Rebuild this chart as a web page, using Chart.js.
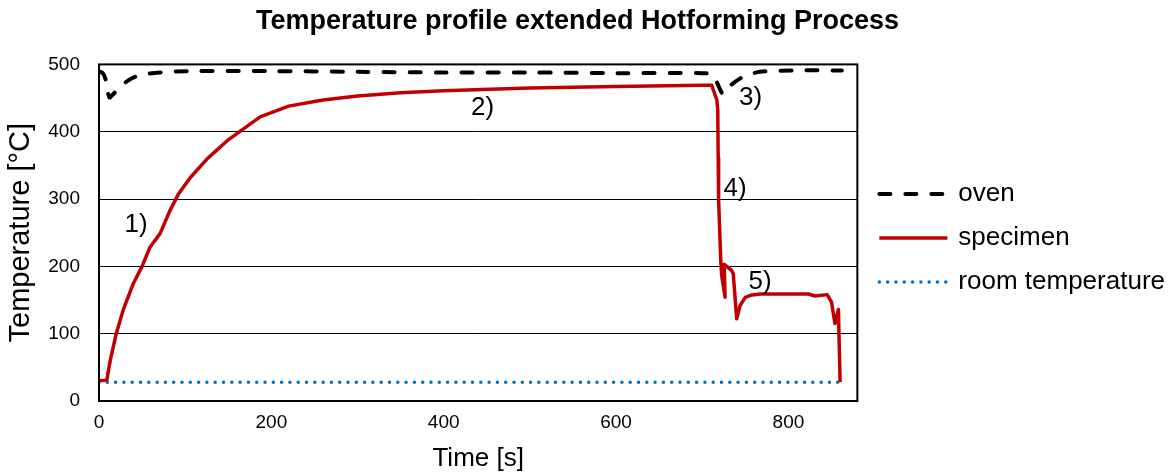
<!DOCTYPE html>
<html>
<head>
<meta charset="utf-8">
<title>Temperature profile extended Hotforming Process</title>
<script src="https://cdn.jsdelivr.net/npm/chart.js@4/dist/chart.umd.min.js"></script>
<style>
    html, body { margin: 0; padding: 0; background: #fff; }
    #wrap { width: 1176px; height: 474px; }
</style>
</head>
<body>
<div id="wrap"><canvas id="profile" width="1176" height="474"></canvas></div>
<script>
// Values (time in s, temperature in °C)
const ovenTime = [0, 5, 8, 12, 16, 24, 36, 48, 71, 102, 200, 300, 400, 500, 600, 701, 711, 716, 721, 724, 728, 734, 745, 752, 767, 806, 862];
const ovenTemp = [490, 486, 476, 451, 455, 466, 478, 484, 488, 490, 490, 489, 488, 488, 487, 487, 485, 476, 462, 456, 460, 470, 480, 484, 489, 491, 491];

const specimenTime = [0, 9, 13, 20, 28, 40, 50, 59, 71, 82, 92, 106, 125, 137, 150, 164, 187, 220, 260, 300, 350, 400, 500, 600, 700, 711,
    717, 718, 718.5, 719, 721.5, 722.5, 726.5, 725.5, 734, 736, 740, 744, 750, 756, 767, 775, 823, 831, 845, 850, 854, 858, 860];
const specimenTemp = [30, 31, 60, 100, 135, 175, 200, 228, 249, 282, 307, 332, 359, 373, 388, 401, 422, 438, 447, 453, 458, 461, 465, 467, 469, 469,
    447, 432, 362, 298, 209, 187, 154, 203, 194, 189, 122, 142, 154, 157, 159, 159, 159, 156, 158, 147, 115, 136, 28];

const roomTime = [0, 866];
const roomTemp = [28, 28];

const yTicks = [0, 100, 200, 300, 400, 500];

// Phase labels 1) .. 5) placed in data units
const phaseText = ['1)', '2)', '3)', '4)', '5)'];
const phaseTime = [43, 445, 756, 738, 767];
const phaseTemp = [262, 436, 451, 315, 177];

const FONT = "'Liberation Sans', Arial, sans-serif";
const LEGEND_LINE = 70;

const toPoints = (xs, ys) => xs.map((x, i) => ({ x: x, y: ys[i] }));

// Draws the plot frame, the phase labels and the dashed legend samples
const extras = {
    id: 'extras',
    beforeLayout(chart) {
        // the layout caps a side legend at a quarter of the width, which cuts "room temperature"
        const legend = chart.legend;
        if (legend && !legend._widened) {
            const update = legend.update.bind(legend);
            legend.update = (maxWidth, maxHeight, margins) => update(Math.max(maxWidth, 340), maxHeight, margins);
            legend._widened = true;
        }
    },
    afterLayout(chart) {
        // Excel centres the title a bit left of the canvas centre
        if (chart.titleBlock) {
            chart.titleBlock.right -= 24;
        }
    },
    afterDatasetsDraw(chart) {
        const { ctx, chartArea, scales } = chart;
        ctx.save();
        ctx.strokeStyle = '#000';
        ctx.lineWidth = 2;
        ctx.strokeRect(chartArea.left, chartArea.top, chartArea.right - chartArea.left, chartArea.bottom - chartArea.top);

        ctx.fillStyle = '#000';
        ctx.font = '26px ' + FONT;
        ctx.textAlign = 'center';
        ctx.textBaseline = 'middle';
        phaseText.forEach((t, i) => {
            ctx.fillText(t, scales.x.getPixelForValue(phaseTime[i]), scales.y.getPixelForValue(phaseTemp[i]));
        });
        ctx.restore();
    },
    afterDraw(chart) {
        const { ctx, legend } = chart;
        // the built-in legend ignores borderDash for point styles, so draw the samples here
        legend.legendHitBoxes.forEach((box, i) => {
            const ds = chart.data.datasets[i];
            const y = box.top + box.height / 2;
            ctx.save();
            ctx.strokeStyle = ds.borderColor;
            ctx.lineWidth = ds.borderWidth;
            ctx.lineCap = ds.borderCapStyle || 'butt';
            ctx.setLineDash(ds.borderDash || []);
            ctx.beginPath();
            ctx.moveTo(box.left + 4, y);
            ctx.lineTo(box.left + LEGEND_LINE + 2, y);
            ctx.stroke();
            ctx.restore();
        });
    }
};

const draw = () => {
    const canvas = document.getElementById('profile');
    new Chart(canvas, {
        type: 'line',
        data: {
            datasets: [{
                label: 'oven',
                data: toPoints(ovenTime, ovenTemp),
                borderColor: '#000000',
                backgroundColor: '#000000',
                borderWidth: 4,
                borderDash: [11, 15],
                borderCapStyle: 'round',
                pointRadius: 0,
                tension: 0.3
            }, {
                label: 'specimen',
                data: toPoints(specimenTime, specimenTemp),
                borderColor: '#C00000',
                backgroundColor: '#C00000',
                borderWidth: 3.5,
                borderJoinStyle: 'round',
                pointRadius: 0,
                tension: 0
            }, {
                label: 'room temperature',
                data: toPoints(roomTime, roomTemp),
                borderColor: '#0070C0',
                backgroundColor: '#0070C0',
                borderWidth: 3.5,
                borderDash: [0, 8.3],
                borderCapStyle: 'round',
                pointRadius: 0
            }]
        },
        options: {
            responsive: false,
            animation: false,
            layout: { padding: { left: 4, right: 1, top: 2, bottom: 0 } },
            plugins: {
                title: {
                    display: true,
                    text: 'Temperature profile extended Hotforming Process',
                    color: '#000',
                    font: { family: FONT, size: 27, weight: 'bold' },
                    padding: { top: 3, bottom: 27 }
                },
                legend: {
                    position: 'right',
                    labels: {
                        color: '#000',
                        font: { family: FONT, size: 26 },
                        usePointStyle: true,
                        pointStyle: 'line',
                        pointStyleWidth: LEGEND_LINE,
                        padding: 18,
                        generateLabels: chart => Chart.defaults.plugins.legend.labels.generateLabels(chart)
                            .map(item => ({ ...item, lineWidth: 0 }))
                    }
                },
                tooltip: { enabled: false }
            },
            scales: {
                x: {
                    type: 'linear',
                    min: 0,
                    max: 880,
                    grid: { display: false, drawTicks: false },
                    border: { display: false },
                    afterFit: axis => { axis.height = 73; },
                    ticks: {
                        stepSize: 200,
                        color: '#000',
                        padding: 10,
                        font: { family: FONT, size: 19 },
                        callback: v => (v % 200 === 0 ? v : '')
                    },
                    title: {
                        display: true,
                        text: 'Time [s]',
                        color: '#000',
                        font: { family: FONT, size: 26 },
                        padding: { top: 6, bottom: 0 }
                    }
                },
                y: {
                    min: 0,
                    max: 500,
                    afterBuildTicks: axis => { axis.ticks = yTicks.map(v => ({ value: v })); },
                    afterFit: axis => { axis.width = 95; },
                    grid: { color: '#000', lineWidth: 1, drawTicks: false },
                    border: { display: false },
                    ticks: {
                        color: '#000',
                        padding: 19,
                        font: { family: FONT, size: 19 }
                    },
                    title: {
                        display: true,
                        text: 'Temperature [°C]',
                        color: '#000',
                        font: { family: FONT, size: 29 },
                        padding: { top: 0, bottom: 8 }
                    }
                }
            }
        },
        plugins: [extras]
    });
};

document.addEventListener('DOMContentLoaded', () => {
    draw();
});
</script>
</body>
</html>
